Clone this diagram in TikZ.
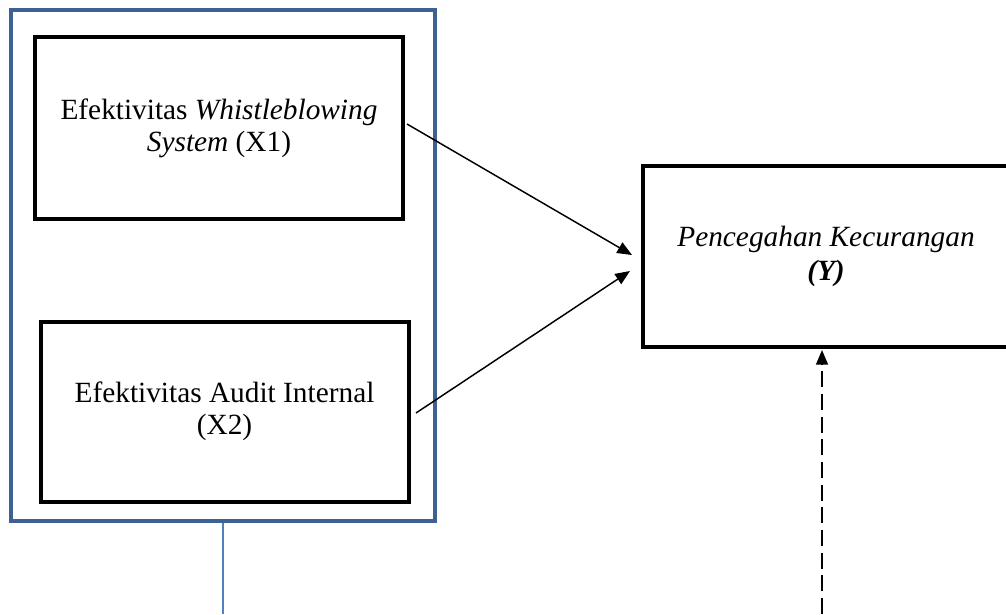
\documentclass[tikz,border=0pt]{standalone}
\usepackage{fontspec}
\setmainfont{Liberation Serif}
\usetikzlibrary{calc,arrows.meta,positioning}
\colorlet{frameblue}{rgb,255:red,61;green,97;blue,145}
\colorlet{lineblue}{rgb,255:red,79;green,129;blue,189}

\begin{document}
\begin{tikzpicture}[x=0.75pt, y=-0.75pt,
    varbox/.style={draw, line width=3pt, align=center, inner sep=0pt,
      minimum width=276pt, minimum height=136pt, font=\fontsize{22}{24}\selectfont},
    path/.style={line width=1.1pt, -{Triangle[length=11pt, width=9pt]}}]
      \clip (0,0) rectangle (1006,614);
      % Outer frame round X1 and X2
      \node[draw=frameblue, line width=3pt, minimum width=318pt, minimum height=383.25pt,
        inner sep=0pt] (grp) at (223,265.5) {};
      % Independent variables
      \node[varbox] (x1) at (219,128) {Efektivitas \textit{Whistleblowing}\\\textit{System} (X1)};
      \node[varbox, minimum height=135pt] (x2) at (224.5,411.5) {Efektivitas Audit Internal\\(X2)};
      % Dependent variable
      \node[varbox, minimum width=275pt, font=\fontsize{22}{25}\selectfont]
        (y) at (826,256.5) {\textit{Pencegahan Kecurangan}\\\textbf{\textit{(Y)}}};
      % Arrow ends
      \coordinate (tipA) at (632,255);
      \coordinate (tipB) at (630,271);
      \coordinate (startB) at (416,413);
      \coordinate (tipC) at (822,350);
      \coordinate (footC) at (822,614);
      \coordinate (footG) at (223,614);
      % Paths
      \draw[path] (x1.east) ++(2,-4) -- (tipA);
      \draw[path] (startB) -- (tipB);
      \draw[path, dash pattern=on 12pt off 5pt] (footC) -- (tipC);
      \draw[lineblue, line width=1.2pt] (grp.south -| footG) -- (footG);
    \end{tikzpicture}
\end{document}
